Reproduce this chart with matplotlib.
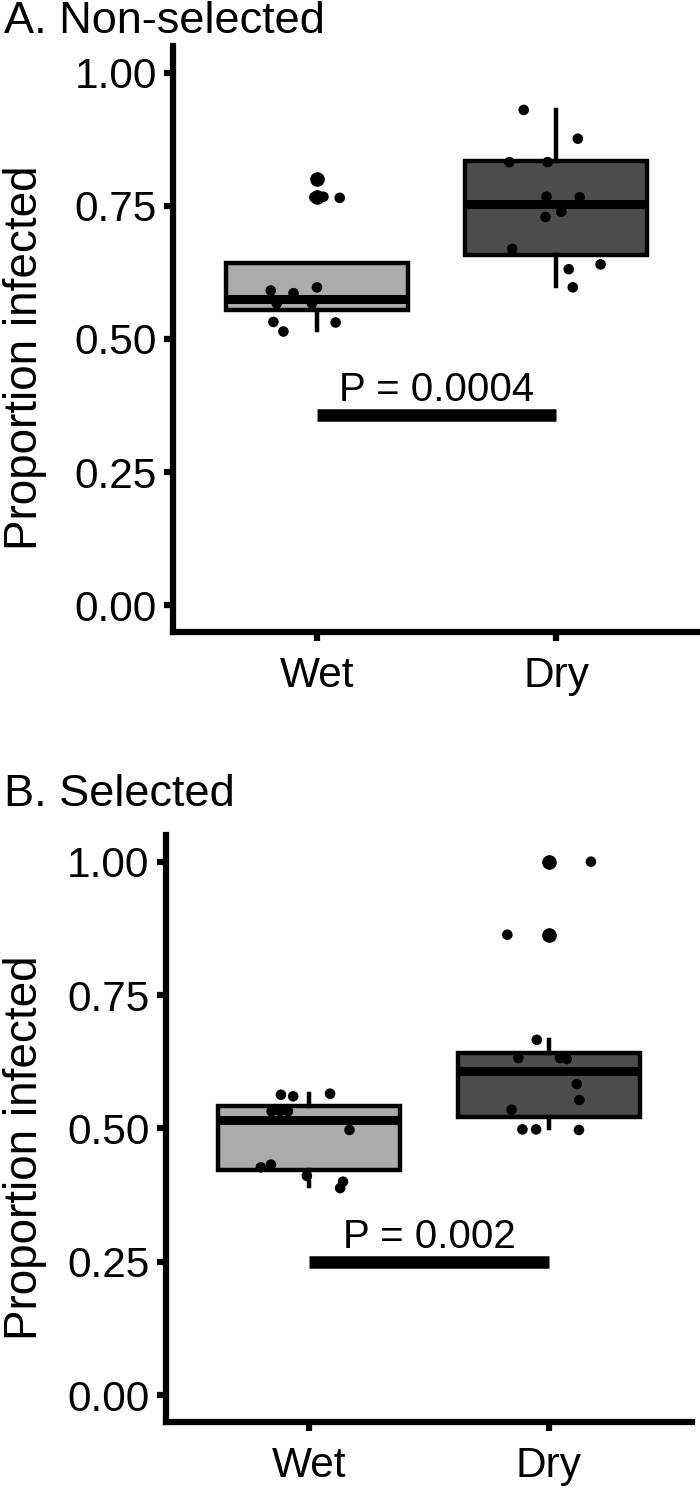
import matplotlib
matplotlib.use("Agg")
import matplotlib.pyplot as plt

plt.rcParams['font.family'] = ['Liberation Sans', 'DejaVu Sans']

groups = ["Wet", "Dry"]
box_colors = ["#ABABAB", "#4D4D4D"]

# panel A: non-selected  (box stats: whislo, q1, med, q3, whishi)
a_stats = [(0.516, 0.555, 0.575, 0.643, 0.643),
           (0.600, 0.657, 0.753, 0.834, 0.930)]
a_outliers = [[0.766, 0.800], []]
a_wet_y = [0.591, 0.586, 0.597, 0.567, 0.567, 0.532, 0.514, 0.531, 0.767, 0.765, 0.800, 0.766]
a_wet_dx = [-0.192, -0.097, 0.001, -0.167, -0.020, -0.181, -0.139, 0.079, 0.028, 0.096, 0.0, -0.01]
a_dry_y = [0.930, 0.876, 0.832, 0.832, 0.767, 0.766, 0.739, 0.729, 0.669, 0.640, 0.631, 0.597]
a_dry_dx = [-0.136, 0.090, -0.196, -0.036, -0.041, 0.098, 0.021, -0.045, -0.184, 0.185, 0.052, 0.069]
a_p = ("P = 0.0004", 0.357)

# panel B: selected
b_stats = [(0.391, 0.422, 0.516, 0.541, 0.565),
           (0.500, 0.521, 0.607, 0.642, 0.665)]
b_outliers = [[], [0.863, 1.000]]
b_wet_y = [0.563, 0.560, 0.565, 0.532, 0.532, 0.532, 0.497, 0.427, 0.432, 0.411, 0.400, 0.388]
b_wet_dx = [-0.118, -0.067, 0.087, -0.157, -0.122, -0.089, 0.168, -0.202, -0.160, -0.010, 0.141, 0.129]
b_dry_y = [0.666, 0.632, 0.632, 0.630, 0.583, 0.553, 0.535, 0.498, 0.498, 0.497, 1.000, 0.863]
b_dry_dx = [-0.050, -0.127, 0.047, 0.075, 0.117, 0.128, -0.155, -0.110, -0.053, 0.126, 0.176, -0.173]
b_p = ("P = 0.002", 0.250)

yticks = [0.0, 0.25, 0.5, 0.75, 1.0]
ytick_labels = ["0.00", "0.25", "0.50", "0.75", "1.00"]


def draw_panel(ax, stats, outliers, wet, dry, pval):
    bxp_stats = []
    for i, (lo, q1, med, q3, hi) in enumerate(stats):
        bxp_stats.append(dict(whislo=lo, q1=q1, med=med, q3=q3, whishi=hi,
                              fliers=outliers[i], label=groups[i]))
    bp = ax.bxp(bxp_stats, positions=[1, 2], widths=0.76, patch_artist=True,
                showcaps=False,
                boxprops=dict(linewidth=3.2, edgecolor="black"),
                whiskerprops=dict(linewidth=3.2, color="black"),
                medianprops=dict(linewidth=6.5, color="black", solid_capstyle="butt"),
                flierprops=dict(marker="o", markerfacecolor="black",
                                markeredgecolor="black", markersize=9.5))
    for patch, c in zip(bp["boxes"], box_colors):
        patch.set_facecolor(c)

    # jittered points
    for pos, (ys, dxs) in zip([1, 2], [wet, dry]):
        ax.scatter([pos + d for d in dxs], ys, s=58, color="black",
                   edgecolors="none", zorder=4)

    text, yb = pval
    ax.plot([1, 2], [yb, yb], color="black", linewidth=9, solid_capstyle="butt")
    ax.text(1.5, yb + 0.026, text, ha="center", va="baseline", fontsize=29)

    ax.set_xlim(0.4, 2.6)
    ax.set_ylim(-0.05, 1.05)
    ax.set_xticks([1, 2])
    ax.set_xticklabels(groups)
    ax.set_yticks(yticks)
    ax.set_yticklabels(ytick_labels)
    for s in ["top", "right"]:
        ax.spines[s].set_visible(False)
    for s in ["left", "bottom"]:
        ax.spines[s].set_linewidth(4.5)
    ax.tick_params(axis="both", width=4.5, length=6.5, labelsize=30.5,
                   colors="black")
    ax.tick_params(axis="x", pad=11)
    ax.tick_params(axis="y", pad=5)


fig = plt.figure(figsize=(7, 14.94), dpi=100)
ax1 = fig.add_axes([173 / 700, 1 - 632 / 1494, 527 / 700, 586 / 1494])
ax2 = fig.add_axes([165.5 / 700, 1 - 1421.7 / 1494, 527 / 700, 586.7 / 1494])

draw_panel(ax1, a_stats, a_outliers, (a_wet_y, a_wet_dx), (a_dry_y, a_dry_dx), a_p)
draw_panel(ax2, b_stats, b_outliers, (b_wet_y, b_wet_dx), (b_dry_y, b_dry_dx), b_p)

fig.text(0.006, 1 - 33 / 1494, "A. Non-selected", fontsize=32.5, va="baseline")
fig.text(0.006, 1 - 806 / 1494, "B. Selected", fontsize=32.5, va="baseline")
fig.text(25 / 700, 1 - 358 / 1494, "Proportion infected", rotation=90,
         fontsize=33, ha="center", va="center")
fig.text(25 / 700, 1 - 1148 / 1494, "Proportion infected", rotation=90,
         fontsize=33, ha="center", va="center")

fig.savefig("out.png", dpi=100)
